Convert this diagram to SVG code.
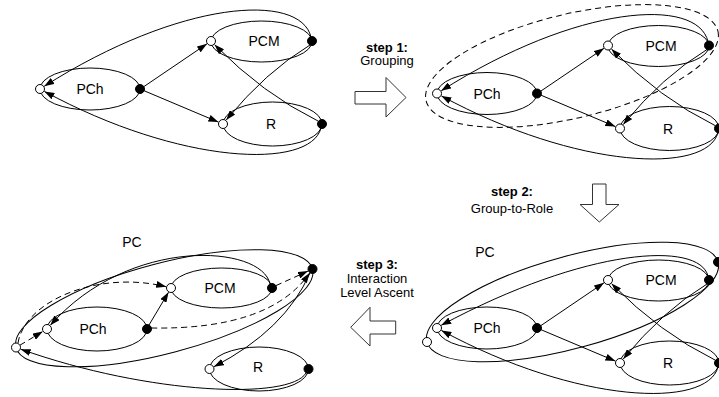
<svg xmlns="http://www.w3.org/2000/svg" width="719" height="397" viewBox="0 0 719 397">
<style>
.el{fill:none;stroke:#000;stroke-width:1}
.cn{fill:none;stroke:#000;stroke-width:1}
.ds{stroke-dasharray:6 4}
.wn{fill:#fff;stroke:#000;stroke-width:1}
.bn{fill:#000;stroke:#000;stroke-width:1}
.lb{font-family:"Liberation Sans",Arial,sans-serif;font-size:14px;text-anchor:middle;fill:#000}
.st{font-family:"Liberation Sans",Arial,sans-serif;font-size:13px;text-anchor:middle;fill:#000}
.sb{font-weight:bold}
.ba{fill:#fff;stroke:#333;stroke-width:1}
</style>
<defs>
<marker id="ah" markerUnits="userSpaceOnUse" markerWidth="10" markerHeight="7" refX="10" refY="3.5" orient="auto">
<path d="M0,0 L10,3.5 L0,7 z" fill="#000"/>
</marker>
</defs>

<!-- TOP LEFT -->
<g id="top-left">
<g id="tl-connectors">
<path class="cn" d="M144,86.5 L207,43.8" marker-end="url(#ah)"/>
<path class="cn" d="M144,90.7 L218.4,122.1" marker-end="url(#ah)"/>
<path class="cn" d="M310,45 Q265.5,72 226.2,120.1" marker-end="url(#ah)"/>
<path class="cn" d="M318,121 Q263,94 214.5,44.6" marker-end="url(#ah)"/>
<path class="cn" d="M311,37 C300,-8 180,0 44.2,86.3" marker-end="url(#ah)"/>
<path class="cn" d="M321,128 C310,170 180,165 44.4,91.4" marker-end="url(#ah)"/>
</g>
<g id="tl-pch"><ellipse class="el" cx="90" cy="89" rx="50" ry="21"/><circle class="wn" cx="40" cy="89" r="4.5"/><circle class="bn" cx="140" cy="89" r="4.5"/><text class="lb" x="90" y="94">PCh</text></g>
<g id="tl-pcm"><ellipse class="el" cx="261.5" cy="41.5" rx="50.5" ry="20.5"/><circle class="wn" cx="211" cy="41" r="4.5"/><circle class="bn" cx="312" cy="41" r="4.5"/><text class="lb" x="264" y="46">PCM</text></g>
<g id="tl-r"><ellipse class="el" cx="272.5" cy="124" rx="49.5" ry="22"/><circle class="wn" cx="223" cy="124" r="4.5"/><circle class="bn" cx="322" cy="124" r="4.5"/><text class="lb" x="271" y="129">R</text></g>
</g>

<!-- TOP RIGHT -->
<g id="top-right" transform="translate(397,4.5)">
<g id="tr-connectors">
<path class="cn" d="M144,86.5 L207,43.8" marker-end="url(#ah)"/>
<path class="cn" d="M144,90.7 L218.4,122.1" marker-end="url(#ah)"/>
<path class="cn" d="M310,45 Q265.5,72 226.2,120.1" marker-end="url(#ah)"/>
<path class="cn" d="M318,121 Q263,94 214.5,44.6" marker-end="url(#ah)"/>
<path class="cn" d="M311,37 C300,-8 180,0 44.2,86.3" marker-end="url(#ah)"/>
<path class="cn" d="M321,128 C310,170 180,165 44.4,91.4" marker-end="url(#ah)"/>
</g>
<g id="tr-pch"><ellipse class="el" cx="90" cy="89" rx="50" ry="21"/><circle class="wn" cx="40" cy="89" r="4.5"/><circle class="bn" cx="140" cy="89" r="4.5"/><text class="lb" x="90" y="94">PCh</text></g>
<g id="tr-pcm"><ellipse class="el" cx="261.5" cy="41.5" rx="50.5" ry="20.5"/><circle class="wn" cx="211" cy="41" r="4.5"/><circle class="bn" cx="312" cy="41" r="4.5"/><text class="lb" x="264" y="46">PCM</text></g>
<g id="tr-r"><ellipse class="el" cx="272.5" cy="124" rx="49.5" ry="22"/><circle class="wn" cx="223" cy="124" r="4.5"/><circle class="bn" cx="322" cy="124" r="4.5"/><text class="lb" x="271" y="129">R</text></g>
</g>
<g id="tr-group"><ellipse class="el ds" cx="572" cy="66" rx="150" ry="52" transform="rotate(-13.4 572 66)"/></g>

<!-- BOTTOM RIGHT -->
<g id="br-pc"><ellipse class="el" cx="572.5" cy="302" rx="151" ry="46" transform="rotate(-15.4 572.5 302)"/><circle class="wn" cx="427" cy="342" r="4.5"/><circle class="bn" cx="718" cy="262" r="4.5"/><text class="lb" x="485" y="257">PC</text></g>
<g id="bottom-right" transform="translate(397,239)">
<g id="br-connectors">
<path class="cn" d="M144,86.5 L207,43.8" marker-end="url(#ah)"/>
<path class="cn" d="M144,90.7 L218.4,122.1" marker-end="url(#ah)"/>
<path class="cn" d="M310,45 Q265.5,72 226.2,120.1" marker-end="url(#ah)"/>
<path class="cn" d="M318,121 Q263,94 214.5,44.6" marker-end="url(#ah)"/>
<path class="cn" d="M311,37 C302,2 190,8 44.2,86.3" marker-end="url(#ah)"/>
<path class="cn" d="M321,128 C310,170 180,165 44.4,91.4" marker-end="url(#ah)"/>
</g>
<g id="br-pch"><ellipse class="el" cx="90" cy="89" rx="50" ry="21"/><circle class="wn" cx="40" cy="89" r="4.5"/><circle class="bn" cx="140" cy="89" r="4.5"/><text class="lb" x="90" y="94">PCh</text></g>
<g id="br-pcm"><ellipse class="el" cx="261.5" cy="41.5" rx="50.5" ry="20.5"/><circle class="wn" cx="211" cy="41" r="4.5"/><circle class="bn" cx="312" cy="41" r="4.5"/><text class="lb" x="264" y="46">PCM</text></g>
<g id="br-r"><ellipse class="el" cx="272.5" cy="124" rx="49.5" ry="22"/><circle class="wn" cx="223" cy="124" r="4.5"/><circle class="bn" cx="322" cy="124" r="4.5"/><text class="lb" x="271" y="129">R</text></g>
</g>

<!-- BOTTOM LEFT -->
<g id="bottom-left">
<g id="bl-connectors">
<path class="cn" d="M149,325 L168.5,292.3" marker-end="url(#ah)"/>
<path class="cn" d="M270,284 C262,245 130,235 50.3,325.3" marker-end="url(#ah)"/>
<path class="cn" d="M310,273 Q285,330 213.9,366.7" marker-end="url(#ah)"/>
<path class="cn" d="M306,373 C290,400 150,395 20.7,349.2" marker-end="url(#ah)"/>
<path class="cn ds" d="M19.9,345.2 L42.7,331.6" marker-end="url(#ah)"/>
<path class="cn ds" d="M18,343 C25,300 100,270 166.2,286.8" marker-end="url(#ah)"/>
<path class="cn ds" d="M151,328 Q270,330 309.6,273.1" marker-end="url(#ah)"/>
<path class="cn ds" d="M276,285.6 L308,271.1" marker-end="url(#ah)"/>
</g>
<g id="bl-pc"><ellipse class="el" cx="164.25" cy="308.25" rx="153.4" ry="45" transform="rotate(-14.83 164.25 308.25)"/><circle class="wn" cx="16" cy="347.5" r="4.5"/><circle class="bn" cx="312.5" cy="269" r="4.5"/><text class="lb" x="132" y="247">PC</text></g>
<g id="bl-pch"><ellipse class="el" cx="97" cy="329" rx="50" ry="22"/><circle class="wn" cx="47" cy="329" r="4.5"/><circle class="bn" cx="147" cy="329" r="4.5"/><text class="lb" x="93" y="334">PCh</text></g>
<g id="bl-pcm"><ellipse class="el" cx="221.5" cy="288" rx="50.5" ry="20"/><circle class="wn" cx="171" cy="288" r="4.5"/><circle class="bn" cx="272" cy="288" r="4.5"/><text class="lb" x="220" y="293">PCM</text></g>
<g id="bl-r"><ellipse class="el" cx="259" cy="369" rx="49.5" ry="22"/><circle class="wn" cx="209.5" cy="369" r="4.5"/><circle class="bn" cx="308.5" cy="369" r="4.5"/><text class="lb" x="258" y="372">R</text></g>
</g>

<!-- STEP ARROWS -->
<g id="step1">
<polygon class="ba" points="355,91.5 386,91.5 386,77.5 406,97.5 386,117 386,104 355,104"/>
<text class="st sb" x="387" y="51.5">step 1:</text>
<text class="st" x="387" y="65">Grouping</text>
</g>
<g id="step2">
<polygon class="ba" points="592.5,184 606,184 606,204.5 619,204.5 599.3,222 580,204.5 592.5,204.5"/>
<text class="st sb" x="512" y="196">step 2:</text>
<text class="st" x="512" y="213">Group-to-Role</text>
</g>
<g id="step3">
<polygon class="ba" points="395.7,321 395.7,334 370,334 370,346 350.7,327.3 370,307.3 370,321"/>
<text class="st sb" x="377" y="269">step 3:</text>
<text class="st" x="377" y="283">Interaction</text>
<text class="st" x="377" y="297">Level Ascent</text>
</g>
</svg>
